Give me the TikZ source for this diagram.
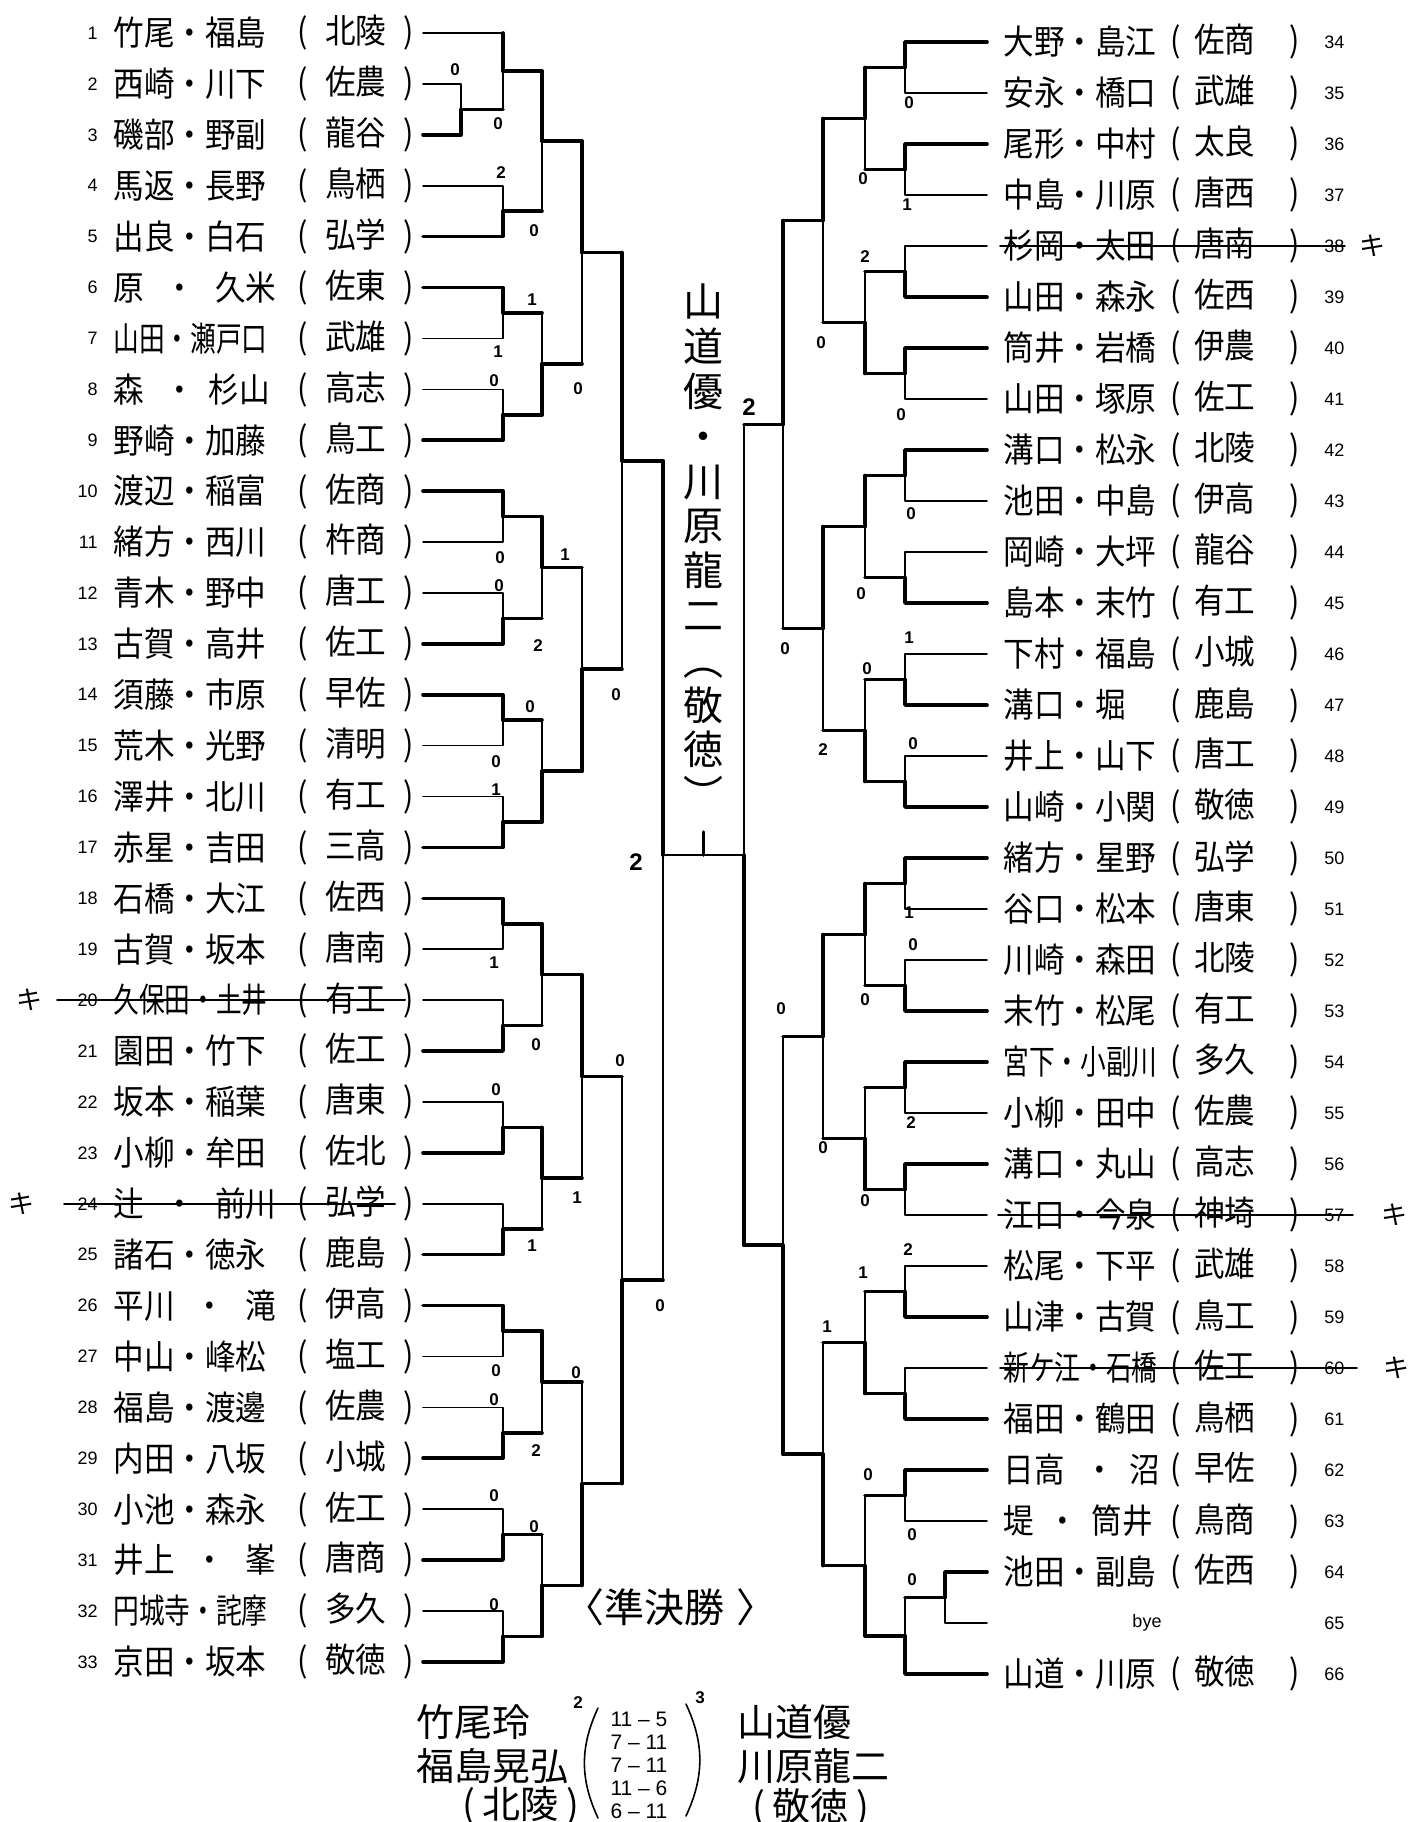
\documentclass[tikz,border=0pt]{standalone}
\usepackage{fontspec}
\usepackage{graphicx}
\setmainfont{Liberation Sans}
\newfontfamily\jp[FakeStretch=0.9]{Noto Sans CJK JP}
\newfontfamily\jpv{Noto Sans CJK JP}
\newcommand\narrow[1]{\scalebox{0.84}[1]{#1}}

\begin{document}
\begin{tikzpicture}[
  x=0.5pt, y=-0.5pt,
  declare function={ly(\r)=33+(\r-1)*50.9; ry(\r)=42+(\r-34)*51;},
  line cap=round, line join=round,
  win/.style={line width=1.8pt},
  lose/.style={line width=0.8pt},
  nm/.style={font=\jp\fontsize{17}{17}\selectfont, inner sep=0pt},
  sch/.style={nm, anchor=east},
  num/.style={font=\fontsize{9}{9}\selectfont, inner sep=0pt},
  pt/.style={font=\bfseries\fontsize{8.5}{8.5}\selectfont, inner sep=0pt},
  big/.style={font=\bfseries\fontsize{12}{12}\selectfont, inner sep=0pt},
  strike/.style={line width=1pt},
  quit/.style={font=\jpv\fontsize{13}{13}\selectfont, inner sep=0pt},
  hand/.style={font=\jpv\fontsize{19}{19}\selectfont, inner sep=0pt}
]
\useasboundingbox (0,0) rectangle (1421,1822);

% Left column: entries 1-33
\foreach \i/\p/\q in {
  1/竹尾・福島/北陵, 2/西崎・川下/佐農, 3/磯部・野副/龍谷, 4/馬返・長野/鳥栖,
  5/出良・白石/弘学, 6/原\hspace{.6em}・\hspace{.6em}久米/佐東, 7/\narrow{山田・瀬戸口}/武雄,
  8/森\hspace{.6em}・\hspace{.4em}杉山/高志, 9/野崎・加藤/鳥工, 10/渡辺・稲富/佐商,
  11/緒方・西川/杵商, 12/青木・野中/唐工, 13/古賀・高井/佐工, 14/須藤・市原/早佐,
  15/荒木・光野/清明, 16/澤井・北川/有工, 17/赤星・吉田/三高, 18/石橋・大江/佐西,
  19/古賀・坂本/唐南, 20/\narrow{久保田・土井}/有工, 21/園田・竹下/佐工, 22/坂本・稲葉/唐東,
  23/小柳・牟田/佐北, 24/辻\hspace{.6em}・\hspace{.6em}前川/弘学, 25/諸石・徳永/鹿島,
  26/平川\hspace{.6em}・\hspace{.6em}滝/伊高, 27/中山・峰松/塩工, 28/福島・渡邊/佐農,
  29/内田・八坂/小城, 30/小池・森永/佐工, 31/井上\hspace{.6em}・\hspace{.6em}峯/唐商,
  32/\narrow{円城寺・詫摩}/多久, 33/京田・坂本/敬徳}
{
  \node[num, anchor=east] (n\i) at (98,{ly(\i)}) {\i};
  \node[nm, anchor=west] (m\i) at (113,{ly(\i)}) {\p};
  \node[sch] (s\i) at (414,{ly(\i)}) {(\hspace{.5em}\q\hspace{.5em})};
  \coordinate (l\i) at (423,{ly(\i)});
}

% Right column: entries 34-66
\foreach \j in {34,...,66} {
  \node[num, anchor=west] (n\j) at (1324,{ry(\j)}) {\j};
  \coordinate (r\j) at (987,{ry(\j)});
}
\foreach \j/\p/\q in {
  34/大野・島江/佐商, 35/安永・橋口/武雄, 36/尾形・中村/太良, 37/中島・川原/唐西,
  38/杉岡・太田/唐南, 39/山田・森永/佐西, 40/筒井・岩橋/伊農, 41/山田・塚原/佐工,
  42/溝口・松永/北陵, 43/池田・中島/伊高, 44/岡崎・大坪/龍谷, 45/島本・末竹/有工,
  46/下村・福島/小城, 47/溝口・堀/鹿島, 48/井上・山下/唐工, 49/山崎・小関/敬徳,
  50/緒方・星野/弘学, 51/谷口・松本/唐東, 52/川崎・森田/北陵, 53/末竹・松尾/有工,
  54/\narrow{宮下・小副川}/多久, 55/小柳・田中/佐農, 56/溝口・丸山/高志, 57/江口・今泉/神埼,
  58/松尾・下平/武雄, 59/山津・古賀/鳥工, 60/\narrow{新ケ江・石橋}/佐工, 61/福田・鶴田/鳥栖,
  62/日高\hspace{.6em}・\hspace{.4em}沼/早佐, 63/堤\hspace{.4em}・\hspace{.4em}筒井/鳥商,
  64/池田・副島/佐西, 66/山道・川原/敬徳}
{
  \node[nm, anchor=west] (m\j) at (1003,{ry(\j)}) {\p};
  \node[sch] (s\j) at (1300,{ry(\j)}) {(\hspace{.4em}\q\hspace{1em})};
}
\node[num] (bye) at (1147,{ry(65)}) {bye};

% Withdrawn pairs
\draw[strike] ([xshift=-10pt]n20.west) -- ([xshift=-4.5pt]s20.east);
\draw[strike] ([xshift=-6.5pt]n24.west) -- ([xshift=-9.5pt]s24.east);
\draw[strike] ([xshift=-1.5pt]m38.west) -- (n38.east);
\draw[strike] ([xshift=-2.5pt]m57.west) -- ([xshift=4pt]n57.east);
\draw[strike] ([xshift=-1.5pt]m60.west) -- ([xshift=6pt]n60.east);
\node[quit] (q20) at (30,{ly(20)}) {キ};
\node[quit] (q24) at (22,{ly(24)}) {キ};
\node[quit] (q38) at (1372,{ry(38)}) {キ};
\node[quit] (q57) at (1394,{ry(57)}) {キ};
\node[quit] (q60) at (1396,{ry(60)}) {キ};

% Match points
\foreach \c/\x/\r in {L2x3/461/2.5, L1x3/503/1.75, L4x5/503/4.5, L1x5/542/3.125,
  L6x7/503/6.5, L8x9/503/8.5, L6x9/542/7.5, L1x9/582/5.3125,
  L10x11/503/10.5, L12x13/503/12.5, L10x13/542/11.5, L14x15/503/14.5,
  L16x17/503/16.5, L14x17/542/15.5, L10x17/582/13.5, L1x17/622/9.40625,
  L18x19/503/18.5, L20x21/503/20.5, L18x21/542/19.5, L22x23/503/22.5,
  L24x25/503/24.5, L22x25/542/23.5, L18x25/582/21.5, L26x27/503/26.5,
  L28x29/503/28.5, L26x29/542/27.5, L30x31/503/30.5, L32x33/503/32.5,
  L30x33/542/31.5, L26x33/582/29.5, L18x33/622/25.5}
  \coordinate (\c) at (\x,{ly(\r)});
\foreach \c/\x/\r in {R34x35/905/34.5, R36x37/905/36.5, R34x37/865/35.5,
  R38x39/905/38.5, R40x41/905/40.5, R38x41/865/39.5, R34x41/823/37.5,
  R42x43/905/42.5, R44x45/905/44.5, R42x45/865/43.5, R46x47/905/46.5,
  R48x49/905/48.5, R46x49/865/47.5, R42x49/823/45.5, R34x49/783/41.5,
  R50x51/905/50.5, R52x53/905/52.5, R50x53/865/51.5, R54x55/905/54.5,
  R56x57/905/56.5, R54x57/865/55.5, R50x57/823/53.5, R58x59/905/58.5,
  R60x61/905/60.5, R58x61/865/59.5, R62x63/905/62.5, R64x65/945/64.5,
  R64x66/905/65.25, R62x66/865/63.875, R58x66/823/61.6875, R50x66/783/57.59375}
  \coordinate (\c) at (\x,{ry(\r)});
\coordinate (LS) at (663,855);
\coordinate (RS) at (744,855);

% First round lines
\foreach \a/\b/\s in {l1/L1x3/lose, l2/L2x3/lose, l3/L2x3/win, l4/L4x5/lose, l5/L4x5/win,
  l6/L6x7/win, l7/L6x7/lose, l8/L8x9/lose, l9/L8x9/win, l10/L10x11/win, l11/L10x11/lose,
  l12/L12x13/lose, l13/L12x13/win, l14/L14x15/win, l15/L14x15/lose, l16/L16x17/lose,
  l17/L16x17/win, l18/L18x19/win, l19/L18x19/lose, l20/L20x21/lose, l21/L20x21/win,
  l22/L22x23/lose, l23/L22x23/win, l24/L24x25/lose, l25/L24x25/win, l26/L26x27/win,
  l27/L26x27/lose, l28/L28x29/lose, l29/L28x29/win, l30/L30x31/lose, l31/L30x31/win,
  l32/L32x33/lose, l33/L32x33/win,
  r34/R34x35/win, r35/R34x35/lose, r36/R36x37/win, r37/R36x37/lose, r38/R38x39/lose,
  r39/R38x39/win, r40/R40x41/win, r41/R40x41/lose, r42/R42x43/win, r43/R42x43/lose,
  r44/R44x45/lose, r45/R44x45/win, r46/R46x47/lose, r47/R46x47/win, r48/R48x49/lose,
  r49/R48x49/win, r50/R50x51/win, r51/R50x51/lose, r52/R52x53/lose, r53/R52x53/win,
  r54/R54x55/win, r55/R54x55/lose, r56/R56x57/win, r57/R56x57/lose, r58/R58x59/lose,
  r59/R58x59/win, r60/R60x61/lose, r61/R60x61/win, r62/R62x63/win, r63/R62x63/lose,
  r64/R64x65/win, r65/R64x65/lose, r66/R64x66/win}
  \draw[\s] (\a) -| (\b);
\draw[win] (l1 -| L1x3) -- (L1x3);

% Later rounds
\foreach \a/\b/\s in {L2x3/L1x3/lose, L1x3/L1x5/win, L4x5/L1x5/lose, L6x7/L6x9/lose,
  L8x9/L6x9/win, L1x5/L1x9/win, L6x9/L1x9/lose, L10x11/L10x13/win, L12x13/L10x13/lose,
  L14x15/L14x17/lose, L16x17/L14x17/win, L10x13/L10x17/lose, L14x17/L10x17/win,
  L1x9/L1x17/win, L10x17/L1x17/lose, L18x19/L18x21/win, L20x21/L18x21/lose,
  L22x23/L22x25/win, L24x25/L22x25/lose, L18x21/L18x25/win, L22x25/L18x25/lose,
  L26x27/L26x29/win, L28x29/L26x29/lose, L30x31/L30x33/lose, L32x33/L30x33/win,
  L26x29/L26x33/lose, L30x33/L26x33/win, L18x25/L18x33/lose, L26x33/L18x33/win,
  L1x17/LS/win, L18x33/LS/lose,
  R34x35/R34x37/win, R36x37/R34x37/lose, R38x39/R38x41/lose, R40x41/R38x41/win,
  R34x37/R34x41/win, R38x41/R34x41/lose, R42x43/R42x45/win, R44x45/R42x45/lose,
  R46x47/R46x49/lose, R48x49/R46x49/win, R42x45/R42x49/win, R46x49/R42x49/lose,
  R34x41/R34x49/win, R42x49/R34x49/lose, R50x51/R50x53/win, R52x53/R50x53/lose,
  R54x55/R54x57/lose, R56x57/R54x57/win, R50x53/R50x57/win, R54x57/R50x57/lose,
  R58x59/R58x61/lose, R60x61/R58x61/win, R62x63/R62x66/lose, R64x65/R64x66/lose,
  R64x66/R62x66/win, R58x61/R58x66/lose, R62x66/R58x66/win, R50x57/R50x66/lose,
  R58x66/R50x66/win, R34x49/RS/lose, R50x66/RS/win}
{
  \draw[win] (\a) -- (\a -| \b);
  \draw[\s] (\a -| \b) -- (\b);
}

% Final
\draw[lose] (LS) -- coordinate (tk) (RS);
\draw[win] (tk) -- ++(0,-23) coordinate (tkt);

% Game scores
\foreach \x/\y/\t [count=\k] in {455/70/0, 498/124/0, 501/173/2, 534/231/0, 532/300/1,
  498/352/1, 494/381/0, 578/389/0, 500/558/0, 499/586/0, 565/555/1, 538/646/2,
  616/695/0, 530/707/0, 496/762/0, 496/790/1, 494/963/1, 536/1045/0, 496/1090/0,
  577/1198/1, 532/1246/1, 620/1061/0, 660/1306/0, 496/1371/0, 576/1373/0,
  494/1400/0, 536/1451/2, 494/1496/0, 534/1527/0, 494/1605/0,
  909/103/0, 907/205/1, 863/179/0, 865/257/2, 821/343/0, 901/415/0, 911/514/0,
  861/594/0, 785/649/0, 909/638/1, 867/669/0, 913/744/0, 823/750/2, 909/913/1,
  913/945/0, 865/1000/0, 781/1009/0, 911/1123/2, 823/1148/0, 865/1201/0,
  908/1250/2, 863/1273/1, 827/1327/1, 868/1475/0, 912/1535/0, 912/1580/0}
  \node[pt] (g\k) at (\x,\y) {\t};
\node[big] (fl) at (636,862) {2};
\node[big] (fr) at (749,407) {2};

% Champion, written down the middle
\node[font=\jpv\fontsize{20}{22.4}\selectfont, align=center, inner sep=0pt] (champ) at (703,547)
  {山\\道\\優\\・\\川\\原\\龍\\二\\︵\\敬\\徳\\︶};

% Final result below
\node[hand, font=\jpv\fontsize{20}{20}\selectfont] (title) at (670,1607) {〈準決勝\hspace{.3em}〉};
\node[hand, anchor=west] (lp1) at (416,1722) {竹尾玲};
\node[hand, anchor=west] (lp2) at (416,1766) {福島晃弘};
\node[hand, anchor=west] (lp3) at (462,1806) {(\hspace{.2em}北陵\hspace{.2em})};
\node[hand, anchor=west] (rp1) at (737,1722) {山道優};
\node[hand, anchor=west] (rp2) at (737,1766) {川原龍二};
\node[hand, anchor=west] (rp3) at (752,1808) {(\hspace{.2em}敬徳\hspace{.2em})};
\node[font=\fontsize{10.5}{11.5}\selectfont, align=center, inner sep=0pt] (games) at (639,1765)
  {11 -- 5\\7 -- 11\\7 -- 11\\11 -- 6\\6 -- 11};
\coordinate (pa) at (598,1708);
\coordinate (pb) at (598,1818);
\coordinate (pc) at (686,1704);
\coordinate (pd) at (686,1816);
\draw[lose] (pa) to[bend right=25] (pb);
\draw[lose] (pc) to[bend left=25] (pd);
\node[pt] (gl) at (578,1703) {2};
\node[pt] (gr) at (700,1698) {3};

\end{tikzpicture}
\end{document}
